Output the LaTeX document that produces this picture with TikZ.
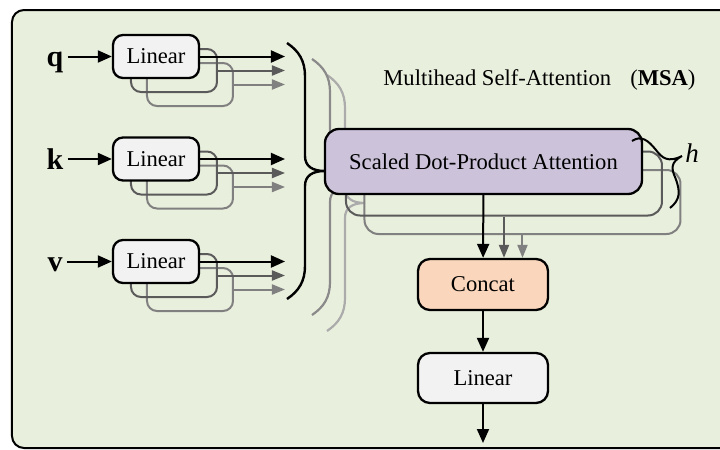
\documentclass[tikz,border=0pt]{standalone}
\usepackage{fontspec}
\setmainfont{Liberation Serif}
\usetikzlibrary{arrows.meta}

\definecolor{panel}{HTML}{E9EFDD}
\definecolor{linfill}{HTML}{F2F2F2}
\definecolor{attfill}{HTML}{CCC3DA}
\definecolor{catfill}{HTML}{FAD6BC}
\definecolor{headA}{HTML}{5A5A5A}
\definecolor{headB}{HTML}{808080}
\definecolor{braceA}{HTML}{8A8A8A}
\definecolor{braceB}{HTML}{ABABAB}

\tikzset{
  % one curly brace gathering the q, k, v projections into a head
  msabrace/.pic={
    \draw[pic actions] (287,43) .. controls (299,51) and (305,61) .. (305,76)
      -- (305,156) .. controls (305,166) and (312,171) .. (325,171)
      .. controls (312,171) and (305,176) .. (305,186)
      -- (305,266) .. controls (305,281) and (299,291) .. (287,299);
  }
}

\begin{document}
\begin{tikzpicture}[x=0.5pt,y=-0.5pt,
  font=\fontsize{11.3}{13}\selectfont,
  box/.style={draw=black, line width=1.15pt, inner sep=0pt, align=center},
  linbox/.style={box, fill=linfill, rounded corners=5pt,
    minimum width=43pt, minimum height=21.5pt},
  ghost/.style={draw=#1, line width=1pt, rounded corners=5pt, inner sep=0pt,
    minimum width=43pt, minimum height=21.5pt},
  attbox/.style={box, fill=attfill, rounded corners=7pt,
    minimum width=158.5pt, minimum height=32.5pt},
  attghost/.style={draw=#1, line width=1pt, rounded corners=7pt, inner sep=0pt,
    minimum width=158pt, minimum height=32pt},
  outbox/.style={box, rounded corners=6pt, minimum width=65pt, minimum height=25.5pt},
  qkv/.style={font=\fontsize{15}{17}\selectfont\bfseries, inner sep=2pt},
  arr/.style={-{Triangle[length=7pt,width=6pt]}, line width=1pt, draw=black},
  arrA/.style={-{Triangle[length=6.5pt,width=5pt]}, line width=1pt, draw=headA},
  arrB/.style={-{Triangle[length=6.5pt,width=5pt]}, line width=1pt, draw=headB},
]
\useasboundingbox (0,0) rectangle (720,450);
\clip (0,0) rectangle (720,450);

% panel
\draw[line width=1pt, fill=panel, rounded corners=6pt] (12,10) rectangle (760,448);

% braces of the three heads
\pic[draw=braceB, line width=1.1pt] at (40,32) {msabrace};
\pic[draw=braceA, line width=1.1pt] at (25,16) {msabrace};
\pic[draw=black, line width=1.2pt] at (0,0) {msabrace};

% input projections
\coordinate (tipx) at (285,0);
\foreach \n/\cy in {q/56.5,k/159,v/261.5}{
  \node[ghost=headB] (\n3) at (190,\cy+28) {};
  \node[ghost=headA] (\n2) at (174,\cy+14) {};
  \node[linbox] (\n1) at (156,\cy) {Linear};
  \node[qkv, anchor=base] (l\n) at (55,\cy+10) {\n};
  \draw[arr] (l\n.east |- \n1) -- (\n1);
  \draw[arr] (\n1) -- (\n1 -| tipx);
  \draw[arrA] (\n2.east) -- (\n2.east -| tipx);
  \draw[arrB] (\n3.east) -- (\n3.east -| tipx);
}

% attention heads
\node[attghost=headB] (att3) at (522.5,202) {};
\node[attghost=headA] (att2) at (504,183.5) {};
\node[attbox] (att1) at (483.5,161.5) {Scaled Dot-Product Attention};

% concatenation and output projection
\node[outbox, fill=catfill] (cat) at (483,284.5) {Concat};
\node[outbox, fill=linfill, minimum height=25pt] (lin) at (483,378) {Linear};
\coordinate (out) at (483,443);

\draw[arr] (att1) -- (cat);
\draw[arrA] (att2.south) -- (att2.south |- cat.north);
\draw[arrB] (att3.south) -- (att3.south |- cat.north);
\draw[arr] (cat) -- (lin);
\draw[arr] (lin) -- (out);

% brace over the heads
\draw[line width=1pt] (632,141) .. controls (641,135) and (648,140) .. (656,150)
  .. controls (662,158) and (668,163) .. (682,156)
  .. controls (671,162) and (671,168) .. (675,177)
  .. controls (681,192) and (680,200) .. (670,208);
\node[anchor=base west, inner sep=0pt, font=\fontsize{13.5}{15}\selectfont\itshape] (hlab) at (685,162) {h};

% title
\node[anchor=base west, inner sep=0pt] (msa) at (383,85)
  {Multihead Self-Attention\hspace{9.5pt}(\textbf{MSA})};
\end{tikzpicture}
\end{document}
